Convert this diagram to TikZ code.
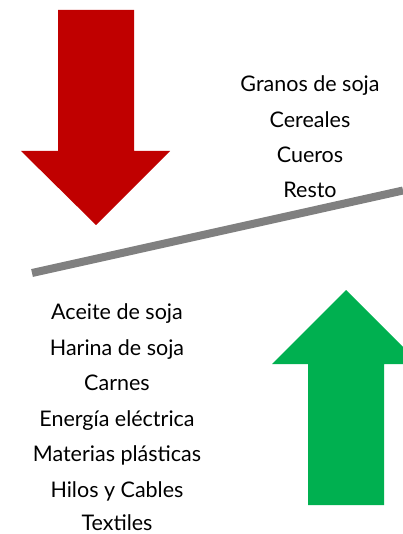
\documentclass[tikz,border=0pt]{standalone}
\usepackage{fontspec}
\setmainfont{Lato}
\definecolor{redarrow}{HTML}{C00000}
\definecolor{greenarrow}{HTML}{00B050}
\definecolor{grayline}{HTML}{808080}
\begin{document}
\begin{tikzpicture}[x=1pt,y=-1pt,
  lbl/.style={anchor=base,inner sep=0pt,font=\fontsize{21.5}{24}\selectfont,text=black},
  bar/.style={draw=grayline,line width=8pt,line cap=butt}]
\useasboundingbox (0,0) rectangle (403,534);
% red down arrow
\fill[redarrow] (58,10) -- (134,10) -- (134,151) -- (170,151) -- (96,225) -- (21,151) -- (58,151) -- cycle;
% green up arrow (clipped at right border)
\begin{scope}
\clip (0,0) rectangle (403,534);
\fill[greenarrow] (308,505) -- (384,505) -- (384,364) -- (420,364) -- (346,290) -- (272,364) -- (308,364) -- cycle;
\end{scope}
% gray line
\coordinate (l1) at (32,273);
\coordinate (l2) at (403,190.5);
\draw[bar] (l1) -- (l2);
% right texts
\node[lbl] (r1) at (310,92) {Granos de soja};
\node[lbl] (r2) at (310,127.5) {Cereales};
\node[lbl] (r3) at (310,163) {Cueros};
\node[lbl] (r4) at (310,198) {Resto};
% left texts
\node[lbl] (t1) at (117,319.5) {Aceite de soja};
\node[lbl] (t2) at (117,355) {Harina de soja};
\node[lbl] (t3) at (117,390.5) {Carnes};
\node[lbl] (t4) at (117,426) {Energía eléctrica};
\node[lbl] (t5) at (117,461.5) {Materias plásticas};
\node[lbl] (t6) at (117,497) {Hilos y Cables};
\node[lbl] (t7) at (117,530) {Textiles};
\end{tikzpicture}
\end{document}
